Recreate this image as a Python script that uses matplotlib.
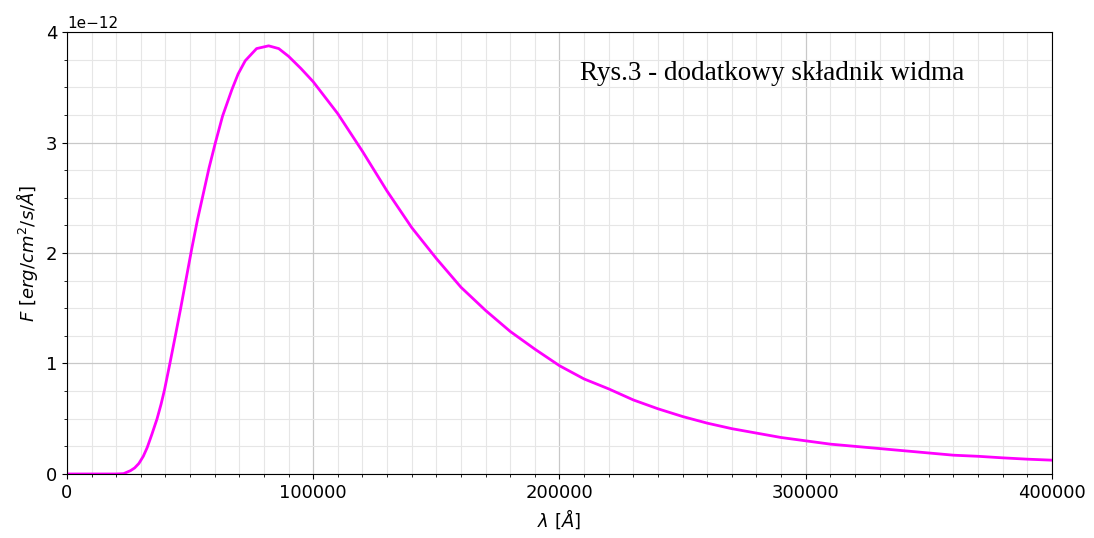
import numpy as np
import matplotlib
matplotlib.use("Agg")
import matplotlib.pyplot as plt
from matplotlib.ticker import AutoMinorLocator

# wavelength [A] and flux [1e-12 erg/cm2/s/A]
wave = [0, 10000, 20000, 23000, 25800, 27500, 29200, 31000, 32600, 34500,
        36600, 38200, 39600, 41800, 44100, 46100, 48100, 50600, 53000,
        55400, 57700, 60300, 63200, 67000, 69500, 72400, 77000, 81900,
        86000, 90000, 95000, 100000, 110000, 120000, 130000, 140000,
        150000, 160000, 170000, 180000, 190000, 200000, 210000, 220000,
        230000, 240000, 250000, 260000, 270000, 280000, 290000, 300000,
        310000, 320000, 330000, 340000, 350000, 360000, 370000, 380000,
        390000, 400000]
flux = [0.0, 0.0, 0.0, 0.003, 0.03, 0.055, 0.095, 0.16, 0.24, 0.36,
        0.5, 0.63, 0.76, 1.0, 1.26, 1.49, 1.73, 2.03, 2.3,
        2.54, 2.77, 3.0, 3.24, 3.48, 3.62, 3.74, 3.85, 3.875,
        3.85, 3.78, 3.67, 3.55, 3.26, 2.92, 2.56, 2.23,
        1.95, 1.69, 1.48, 1.29, 1.13, 0.98, 0.86, 0.77,
        0.67, 0.59, 0.52, 0.46, 0.41, 0.37, 0.33, 0.30,
        0.27, 0.25, 0.23, 0.21, 0.19, 0.17, 0.16, 0.146,
        0.134, 0.125]

wave = np.array(wave)
flux = np.array(flux) * 1e-12

fig = plt.figure(figsize=(10.94, 5.38), dpi=100)
ax = fig.add_axes([0.0612, 0.119, 0.9004, 0.8215])

ax.plot(wave, flux, color="#ff00ff", linewidth=2)

ax.set_xlim(0, 400000)
ax.set_ylim(0, 4e-12)
ax.set_xticks([0, 100000, 200000, 300000, 400000])
ax.set_yticks([0, 1e-12, 2e-12, 3e-12, 4e-12])
ax.xaxis.set_minor_locator(AutoMinorLocator(10))
ax.yaxis.set_minor_locator(AutoMinorLocator(4))
ax.grid(which="major", color="#c8c8c8", linewidth=0.9)
ax.grid(which="minor", color="#e6e6e6", linewidth=0.8)
ax.tick_params(labelsize=13)
ax.yaxis.get_offset_text().set_fontsize(11)

ax.set_xlabel(r"$\lambda\ [\AA]$", fontsize=13)
ax.set_ylabel(r"$F\ [erg/cm^2/s/\AA]$", fontsize=13)

ax.text(0.521, 0.907, "Rys.3 - dodatkowy składnik widma", transform=ax.transAxes,
        fontsize=19.5, family="Liberation Serif", va="center", ha="left")

fig.savefig("out.png", dpi=100)
